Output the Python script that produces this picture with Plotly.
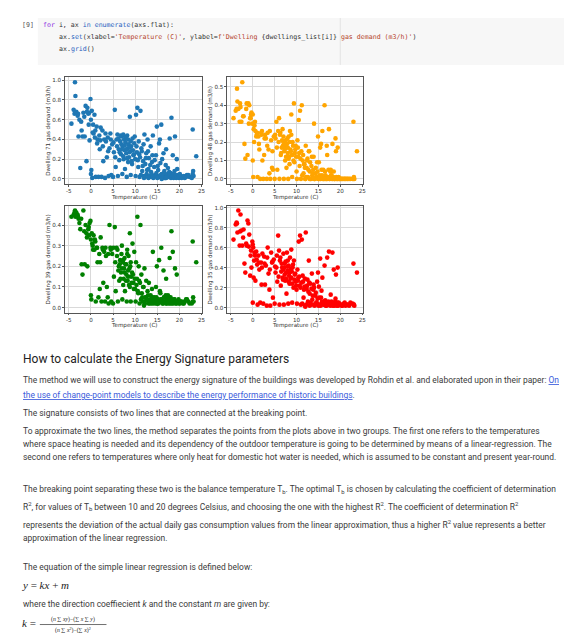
import plotly.graph_objects as go

W, H = 572, 633

# ---------------- data (shared daily temperatures) ----------------
temperature = [
    -4.4, -3.7, -3.6, -3.5, -3.3, -3.0, -2.8, -2.6, -2.4, -2.1,
    -1.9, -1.7, -1.4, -1.2, -1.0, -0.8, -0.6, -0.4, -0.3, -0.1,
    0.0, 0.0, 0.1, 0.2, 0.3, 0.5, 0.6, 0.8, 1.0, 1.1,
    1.3, 1.5, 1.7, 1.9, 2.0, 2.2, 2.4, 2.6, 2.8, 3.0,
    3.2, 3.4, 3.6, 3.8, 4.0, 4.2, 4.4, 4.6, 4.8, 5.0,
    5.2, 5.4, 5.6, 5.8, 6.0, 6.1, 6.3, 6.4, 6.6, 6.8,
    7.0, 7.1, 7.2, 7.4, 7.5, 7.6, 7.7, 7.8, 8.0, 8.1,
    8.2, 8.3, 8.4, 8.5, 8.6, 8.8, 8.9, 9.0, 9.1, 9.3,
    9.4, 9.6, 9.8, 10.0, 10.1, 10.2, 10.4, 10.5, 10.7, 10.8,
    11.0, 11.1, 11.2, 11.4, 11.6, 11.8, 12.0, 12.1, 12.3, 12.5,
    12.6, 12.8, 13.0, 13.1, 13.3, 13.5, 13.6, 13.8, 14.0, 14.1,
    14.3, 14.5, 14.7, 14.9, 15.0, 15.2, 15.4, 15.5, 15.7, 15.9,
    16.0, 16.2, 16.4, 16.6, 16.8, 17.0, 17.2, 17.4, 17.6, 17.8,
    18.0, 18.2, 18.3, 18.5, 18.7, 18.9, 19.0, 19.2, 19.4, 19.6,
    19.9, 20.3, 20.8, 21.2, 21.7, 22.3, 23.0, 23.1, 23.2, 23.8,
    -3.9, -2.9, -2.2, -1.5, -0.9, -0.5, 0.4, 0.9, 1.4, 2.1,
    2.7, 3.3, 3.9, 4.5, 5.1, 5.5, 5.9, 6.2, 6.5, 6.7,
    6.9, 7.0, 7.3, 7.3, 7.6, 7.9, 8.0, 8.2, 8.4, 8.7,
    8.8, 9.0, 9.2, 9.5, 9.7, 9.9, 10.3, 10.6, 10.9, 11.3,
    11.5, 11.7, 11.9, 12.2, 12.4, 12.7, 12.9, 13.2, 13.4, 13.7,
    13.9, 14.2, 14.4, 14.6, 14.8, 15.1, 15.3, 15.6, 15.8, 16.1,
    16.3, 16.5, 16.7, 16.9, 17.1, 17.3, 17.5, 17.7, 17.9, 18.1,
    18.4, 18.6, 18.8, 19.1, 19.3, 19.5, 19.8, 20.1, 20.5, 21.0,
    21.5, 22.0, 22.8, 23.0, 13.0, 12.0, 14.0, 15.0, 16.0, 17.0,
]

demand_71 = [
    0.56, 0.66, 0.98, 0.84, 0.68, 0.64, 0.43, 0.60, 0.11, 0.49,
    0.43, 0.67, 0.43, 0.74, 0.18, 0.72, 0.66, 0.67, 0.39, 0.81,
    0.05, 0.60, 0.09, 0.69, 0.01, 0.55, 0.46, 0.65, 0.49, 0.02,
    0.53, 0.40, 0.02, 0.44, 0.30, 0.52, 0.02, 0.49, 0.18, 0.40,
    0.01, 0.38, 0.22, 0.42, 0.03, 0.31, 0.46, 0.04, 0.35, 0.02,
    0.27, 0.70, 0.12, 0.40, 0.45, 0.03, 0.30, 0.19, 0.38, 0.25,
    0.43, 0.05, 0.33, 0.20, 0.40, 0.29, 0.10, 0.37, 0.26, 0.02,
    0.44, 0.31, 0.17, 0.35, 0.22, 0.63, 0.28, 0.04, 0.33, 0.15,
    0.41, 0.24, 0.36, 0.20, 0.03, 0.65, 0.27, 0.72, 0.12, 0.38,
    0.02, 0.22, 0.69, 0.31, 0.08, 0.18, 0.03, 0.45, 0.15, 0.26,
    0.05, 0.40, 0.10, 0.21, 0.02, 0.33, 0.07, 0.17, 0.44, 0.01,
    0.12, 0.04, 0.24, 0.53, 0.03, 0.09, 0.36, 0.02, 0.16, 0.55,
    0.05, 0.02, 0.26, 0.08, 0.01, 0.30, 0.04, 0.11, 0.02, 0.41,
    0.06, 0.62, 0.03, 0.24, 0.01, 0.08, 0.43, 0.02, 0.20, 0.04,
    0.01, 0.03, 0.02, 0.01, 0.04, 0.02, 0.50, 0.08, 0.03, 0.23,
    0.70, 0.66, 0.58, 0.63, 0.68, 0.55, 0.47, 0.42, 0.36, 0.39,
    0.33, 0.46, 0.28, 0.40, 0.37, 0.22, 0.33, 0.41, 0.27, 0.44,
    0.35, 0.30, 0.45, 0.23, 0.34, 0.42, 0.30, 0.21, 0.40, 0.27,
    0.32, 0.38, 0.18, 0.29, 0.25, 0.43, 0.33, 0.19, 0.25, 0.04,
    0.28, 0.13, 0.35, 0.02, 0.21, 0.09, 0.28, 0.03, 0.14, 0.05,
    0.24, 0.02, 0.19, 0.03, 0.06, 0.13, 0.02, 0.40, 0.04, 0.20,
    0.03, 0.06, 0.01, 0.14, 0.03, 0.05, 0.02, 0.07, 0.04, 0.01,
    0.03, 0.05, 0.02, 0.04, 0.01, 0.10, 0.02, 0.05, 0.01, 0.03,
    0.02, 0.04, 0.01, 0.05, 0.01, 0.01, 0.02, 0.01, 0.00, 0.01,
]

demand_48 = [
    0.33, 0.38, 0.49, 0.42, 0.38, 0.31, 0.39, 0.31, 0.525, 0.34,
    0.19, 0.11, 0.41, 0.13, 0.41, 0.40, 0.33, 0.35, 0.36, 0.30,
    0.10, 0.35, 0.01, 0.27, 0.20, 0.31, 0.26, 0.23, 0.25, 0.01,
    0.23, 0.16, 0.00, 0.25, 0.24, 0.10, 0.00, 0.13, 0.24, 0.22,
    0.00, 0.25, 0.16, 0.03, 0.00, 0.21, 0.06, 0.05, 0.23, 0.00,
    0.22, 0.31, 0.05, 0.26, 0.33, 0.00, 0.25, 0.13, 0.17, 0.27,
    0.20, 0.00, 0.15, 0.10, 0.21, 0.17, 0.06, 0.19, 0.14, 0.00,
    0.23, 0.12, 0.08, 0.26, 0.16, 0.35, 0.13, 0.01, 0.20, 0.10,
    0.41, 0.14, 0.18, 0.04, 0.00, 0.21, 0.12, 0.32, 0.07, 0.37,
    0.00, 0.15, 0.40, 0.10, 0.03, 0.08, 0.00, 0.18, 0.06, 0.11,
    0.01, 0.15, 0.04, 0.09, 0.00, 0.12, 0.02, 0.05, 0.30, 0.00,
    0.03, 0.01, 0.09, 0.23, 0.00, 0.02, 0.17, 0.00, 0.05, 0.26,
    0.01, 0.00, 0.40, 0.02, 0.00, 0.13, 0.01, 0.27, 0.00, 0.05,
    0.02, 0.19, 0.00, 0.04, 0.00, 0.22, 0.15, 0.00, 0.17, 0.01,
    0.00, 0.00, 0.00, 0.00, 0.00, 0.00, 0.31, 0.01, 0.00, 0.15,
    0.37, 0.41, 0.34, 0.38, 0.30, 0.33, 0.29, 0.24, 0.19, 0.26,
    0.22, 0.18, 0.26, 0.15, 0.24, 0.17, 0.20, 0.24, 0.14, 0.21,
    0.18, 0.23, 0.16, 0.19, 0.12, 0.22, 0.17, 0.11, 0.20, 0.15,
    0.24, 0.13, 0.18, 0.09, 0.16, 0.12, 0.17, 0.14, 0.11, 0.02,
    0.13, 0.08, 0.06, 0.01, 0.10, 0.05, 0.15, 0.00, 0.07, 0.03,
    0.12, 0.00, 0.06, 0.01, 0.04, 0.09, 0.00, 0.19, 0.02, 0.05,
    0.00, 0.04, 0.00, 0.18, 0.01, 0.05, 0.00, 0.04, 0.02, 0.00,
    0.01, 0.00, 0.00, 0.01, 0.00, 0.00, 0.00, 0.00, 0.00, 0.00,
    0.00, 0.00, 0.00, 0.00, 0.00, 0.00, 0.00, 0.00, 0.00, 0.00,
]

demand_39 = [
    0.44, 0.46, 0.47, 0.44, 0.46, 0.45, 0.43, 0.41, 0.38, 0.21,
    0.16, 0.47, 0.21, 0.40, 0.36, 0.20, 0.38, 0.35, 0.41, 0.42,
    0.06, 0.33, 0.04, 0.36, 0.31, 0.28, 0.35, 0.28, 0.32, 0.03,
    0.29, 0.22, 0.05, 0.26, 0.09, 0.34, 0.03, 0.29, 0.12, 0.27,
    0.03, 0.25, 0.10, 0.05, 0.02, 0.40, 0.29, 0.03, 0.26, 0.02,
    0.15, 0.39, 0.08, 0.29, 0.28, 0.03, 0.20, 0.13, 0.23, 0.17,
    0.30, 0.04, 0.22, 0.14, 0.19, 0.24, 0.08, 0.21, 0.16, 0.03,
    0.28, 0.13, 0.18, 0.25, 0.11, 0.36, 0.20, 0.03, 0.15, 0.17,
    0.31, 0.12, 0.27, 0.09, 0.03, 0.22, 0.14, 0.44, 0.07, 0.20,
    0.02, 0.12, 0.40, 0.16, 0.05, 0.10, 0.03, 0.19, 0.05, 0.13,
    0.04, 0.08, 0.03, 0.12, 0.02, 0.06, 0.04, 0.09, 0.27, 0.02,
    0.05, 0.03, 0.10, 0.20, 0.02, 0.04, 0.23, 0.03, 0.07, 0.29,
    0.04, 0.02, 0.18, 0.05, 0.03, 0.14, 0.04, 0.06, 0.02, 0.24,
    0.05, 0.37, 0.02, 0.27, 0.03, 0.04, 0.19, 0.02, 0.16, 0.03,
    0.02, 0.03, 0.02, 0.03, 0.04, 0.02, 0.32, 0.05, 0.03, 0.22,
    0.45, 0.44, 0.43, 0.37, 0.34, 0.39, 0.30, 0.33, 0.29, 0.22,
    0.28, 0.29, 0.26, 0.28, 0.29, 0.22, 0.25, 0.18, 0.21, 0.14,
    0.26, 0.19, 0.11, 0.23, 0.17, 0.13, 0.21, 0.26, 0.15, 0.19,
    0.10, 0.22, 0.12, 0.16, 0.09, 0.14, 0.11, 0.08, 0.13, 0.04,
    0.07, 0.03, 0.10, 0.02, 0.05, 0.04, 0.06, 0.03, 0.04, 0.02,
    0.05, 0.03, 0.04, 0.02, 0.05, 0.03, 0.02, 0.08, 0.04, 0.03,
    0.02, 0.05, 0.03, 0.06, 0.02, 0.04, 0.03, 0.05, 0.02, 0.04,
    0.03, 0.02, 0.04, 0.03, 0.02, 0.03, 0.04, 0.02, 0.03, 0.02,
    0.04, 0.03, 0.02, 0.03, 0.02, 0.01, 0.03, 0.02, 0.03, 0.02,
]

demand_35 = [
    0.68, 0.85, 0.84, 0.75, 0.97, 0.62, 0.93, 0.77, 0.62, 0.78,
    0.44, 0.35, 0.62, 0.87, 0.84, 0.73, 0.32, 0.57, 0.40, 0.66,
    0.05, 0.63, 0.60, 0.30, 0.47, 0.52, 0.27, 0.56, 0.43, 0.03,
    0.52, 0.38, 0.05, 0.45, 0.23, 0.54, 0.04, 0.51, 0.23, 0.42,
    0.02, 0.60, 0.34, 0.18, 0.02, 0.55, 0.45, 0.10, 0.48, 0.04,
    0.35, 0.40, 0.26, 0.72, 0.57, 0.03, 0.50, 0.22, 0.44, 0.30,
    0.54, 0.03, 0.40, 0.27, 0.46, 0.35, 0.14, 0.55, 0.37, 0.04,
    0.42, 0.32, 0.24, 0.50, 0.29, 0.58, 0.36, 0.05, 0.40, 0.20,
    0.47, 0.33, 0.26, 0.18, 0.04, 0.38, 0.30, 0.66, 0.22, 0.72,
    0.03, 0.25, 0.68, 0.32, 0.10, 0.21, 0.02, 0.75, 0.19, 0.28,
    0.06, 0.47, 0.14, 0.24, 0.03, 0.34, 0.08, 0.18, 0.20, 0.02,
    0.12, 0.05, 0.26, 0.35, 0.03, 0.10, 0.49, 0.02, 0.17, 0.30,
    0.04, 0.03, 0.42, 0.07, 0.02, 0.50, 0.05, 0.56, 0.03, 0.13,
    0.06, 0.55, 0.02, 0.38, 0.04, 0.09, 0.33, 0.02, 0.40, 0.05,
    0.03, 0.02, 0.04, 0.02, 0.03, 0.05, 0.44, 0.03, 0.02, 0.35,
    0.83, 0.76, 0.70, 0.64, 0.61, 0.52, 0.55, 0.48, 0.45, 0.40,
    0.44, 0.50, 0.38, 0.46, 0.41, 0.52, 0.31, 0.47, 0.36, 0.40,
    0.28, 0.38, 0.44, 0.33, 0.29, 0.41, 0.47, 0.26, 0.35, 0.39,
    0.30, 0.24, 0.43, 0.28, 0.34, 0.22, 0.27, 0.31, 0.20, 0.04,
    0.26, 0.18, 0.29, 0.03, 0.22, 0.16, 0.25, 0.05, 0.19, 0.12,
    0.23, 0.03, 0.15, 0.05, 0.09, 0.21, 0.03, 0.10, 0.06, 0.04,
    0.03, 0.07, 0.02, 0.05, 0.03, 0.06, 0.04, 0.02, 0.05, 0.03,
    0.04, 0.02, 0.06, 0.03, 0.05, 0.02, 0.04, 0.03, 0.02, 0.05,
    0.03, 0.02, 0.04, 0.03, 0.02, 0.01, 0.03, 0.02, 0.04, 0.03,
]

dwellings_list = ["71", "48", "39", "35"]
series = [demand_71, demand_48, demand_39, demand_35]
colors = ["#1f77b4", "#ffa500", "#008000", "#ff0000"]
x_ticks = [-5, 0, 5, 10, 15, 20, 25]
y_ticks = [
    [0.0, 0.2, 0.4, 0.6, 0.8, 1.0],
    [0.0, 0.1, 0.2, 0.3, 0.4, 0.5],
    [0.0, 0.1, 0.2, 0.3, 0.4],
    [0.0, 0.2, 0.4, 0.6, 0.8, 1.0],
]

# ---------------- pixel boxes of the four axes ----------------
boxes = [  # left, right, top, bottom in px
    (57.5, 195.5, 68.5, 175.0),
    (220.5, 357.0, 68.5, 175.0),
    (57.5, 195.5, 197.0, 304.0),
    (220.5, 357.0, 197.0, 304.0),
]
ytitle_x = [40.5, 203.5, 40.5, 203.5]


def pad(lo, hi, f=0.05):
    d = (hi - lo) * f
    return [lo - d, hi + d]


fig = go.Figure()
AXFONT = dict(family="DejaVu Sans", size=5.6, color="#333333")
ann = []

for i, (vals, col) in enumerate(zip(series, colors)):
    n = "" if i == 0 else str(i + 1)
    fig.add_trace(go.Scatter(
        x=temperature, y=vals, mode="markers",
        marker=dict(color=col, size=4.6, line=dict(width=0)),
        xaxis="x" + n, yaxis="y" + n, showlegend=False,
    ))
    l, r, t, b = boxes[i]
    common = dict(showline=True, mirror=True, linecolor="#555555", linewidth=0.8,
                  showgrid=True, gridcolor="#d9d9d9", gridwidth=0.8, zeroline=False,
                  ticks="outside", ticklen=2, tickwidth=0.7, tickcolor="#555555",
                  tickfont=AXFONT)
    fig.update_layout(**{
        "xaxis" + n: dict(domain=[l / W, r / W], anchor="y" + n,
                          range=pad(min(temperature), max(temperature)),
                          tickvals=x_ticks, ticktext=[str(v) for v in x_ticks], **common),
        "yaxis" + n: dict(domain=[1 - b / H, 1 - t / H], anchor="x" + n,
                          range=pad(0, max(vals)),
                          tickvals=y_ticks[i], ticktext=[f"{v:.1f}" for v in y_ticks[i]], **common),
    })
    # axis titles
    ann.append(dict(x=(l + r) / 2 / W, y=1 - (b + 13.5) / H, xref="paper", yref="paper",
                    text="Temperature (C)", showarrow=False, xanchor="center", yanchor="middle",
                    font=AXFONT))
    ann.append(dict(x=ytitle_x[i] / W, y=1 - (t + b) / 2 / H, xref="paper", yref="paper",
                    text=f"Dwelling {dwellings_list[i]} gas demand (m3/h)", showarrow=False,
                    textangle=-90, xanchor="center", yanchor="middle", font=AXFONT))

# ---------------- notebook cell around the figure ----------------
shapes = [
    dict(type="rect", xref="paper", yref="paper", x0=30 / W, x1=1, y0=1 - 56 / H, y1=1 - 9 / H,
         fillcolor="#f7f7f7", line=dict(width=0), layer="below"),
    dict(type="line", xref="paper", yref="paper", x0=334 / W, x1=334 / W, y0=1 - 56 / H, y1=1 - 9 / H,
         line=dict(color="#e3e3e3", width=1)),
    # fraction bar
    dict(type="line", xref="paper", yref="paper", x0=32 / W, x1=99 / W, y0=1 - 616.5 / H, y1=1 - 616.5 / H,
         line=dict(color="#333333", width=0.7)),
]


def txt(x, y, s, size=8.45, color="#3a3a3a", family="Roboto", anchor="left"):
    ann.append(dict(x=x / W, y=1 - y / H, xref="paper", yref="paper", text=s, showarrow=False,
                    xanchor=anchor, yanchor="middle", align="left",
                    font=dict(size=size, color=color, family=family)))


MONO = "DejaVu Sans Mono"
KW = "#8a2be2"
ST = "#b5442b"
FN = "#1f5fbf"
txt(12, 16, "[9]", 6.6, "#555555", MONO)
txt(33, 16, f"<span style='color:{KW}'>for</span> i, ax <span style='color:{FN}'>in</span> "
            f"<span style='color:{FN}'>enumerate</span>(axs.flat):", 6.6, "#333333", MONO)
txt(49, 28, f"ax.<span style='color:{FN}'>set</span>(xlabel=<span style='color:{ST}'>'Temperature (C)'</span>, "
            f"ylabel=<span style='color:{ST}'>f'Dwelling </span>{{dwellings_list[i]}}"
            f"<span style='color:{ST}'> gas demand (m3/h)'</span>)", 6.6, "#333333", MONO)
txt(49, 40, f"ax.<span style='color:{FN}'>grid</span>()", 6.6, "#333333", MONO)

LINK = "#3b5bdb"
txt(13, 351, "How to calculate the Energy Signature parameters", 12, "#222222")
txt(13, 372, "The method we will use to construct the energy signature of the buildings was developed by "
             f"Rohdin et al. and elaborated upon in their paper: <span style='color:{LINK}'><u>On</u></span>")
txt(13, 387, f"<span style='color:{LINK}'><u>the use of change-point models to describe the energy "
             "performance of historic buildings</u></span>.")
txt(13, 405, "The signature consists of two lines that are connected at the breaking point.")
txt(13, 423, "To approximate the two lines, the method separates the points from the plots above in two groups. "
             "The first one refers to the temperatures")
txt(13, 436, "where space heating is needed and its dependency of the outdoor temperature is going to be "
             "determined by means of a linear-regression. The")
txt(13, 449, "second one refers to temperatures where only heat for domestic hot water is needed, which is "
             "assumed to be constant and present year-round.")
txt(13, 481, "The breaking point separating these two is the balance temperature T<sub>b</sub>. The optimal "
             "T<sub>b</sub> is chosen by calculating the coefficient of determination")
txt(13, 498, "R<sup>2</sup>, for values of T<sub>b</sub> between 10 and 20 degrees Celsius, and choosing the "
             "one with the highest R<sup>2</sup>. The coefficient of determination R<sup>2</sup>")
txt(13, 516, "represents the deviation of the actual daily gas consumption values from the linear "
             "approximation, thus a higher R<sup>2</sup> value represents a better")
txt(13, 530, "approximation of the linear regression.")
txt(13, 559, "The equation of the simple linear regression is defined below:")
txt(12, 577, "<i>y</i> = <i>kx</i> + <i>m</i>", 11, "#222222", "Liberation Serif")
txt(13, 596, "where the direction coeffiecient <i>k</i> and the constant <i>m</i> are given by:")
txt(12, 615, "<i>k</i> =", 11, "#222222", "Liberation Serif")
txt(65.5, 611.5, "(<i>n</i> ∑ <i>xy</i>)−(∑ <i>x</i> ∑ <i>y</i>)", 5.8, "#222222", "Liberation Serif", "center")
txt(65.5, 621.5, "(<i>n</i> ∑ <i>x</i><sup>2</sup>)−(∑ <i>x</i>)<sup>2</sup>", 5.8, "#222222",
    "Liberation Serif", "center")

fig.update_layout(
    width=W, height=H, margin=dict(l=0, r=0, t=0, b=0),
    paper_bgcolor="white", plot_bgcolor="white",
    shapes=shapes, annotations=ann,
)

fig.write_html("out.html")
